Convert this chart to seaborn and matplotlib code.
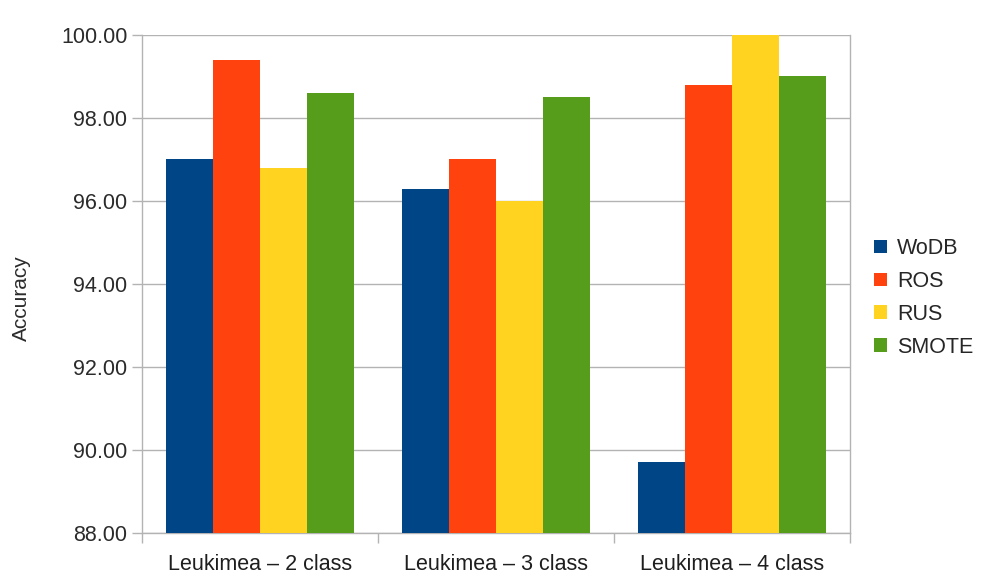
import pandas as pd
import seaborn as sns
import matplotlib.pyplot as plt
from matplotlib.ticker import FixedLocator, FormatStrFormatter

datasets = ["Leukimea – 2 class", "Leukimea – 3 class", "Leukimea – 4 class"]
methods = ["WoDB", "ROS", "RUS", "SMOTE"]
wodb = [97.0, 96.3, 89.7]
ros = [99.4, 97.0, 98.8]
rus = [96.8, 96.0, 100.0]
smote = [98.6, 98.5, 99.0]
colors = ["#004586", "#ff420e", "#ffd320", "#579d1c"]

df = pd.DataFrame({
    "dataset": datasets * 4,
    "method": [m for m in methods for _ in datasets],
    "acc": wodb + ros + rus + smote,
})

sns.set_style("white")
plt.rcParams["font.family"] = ["Liberation Sans", "DejaVu Sans"]

fig = plt.figure(figsize=(9.81, 5.80), dpi=100)
ax = fig.add_axes([0.1448, 0.081, 0.7217, 0.8587])

sns.barplot(data=df, x="dataset", y="acc", hue="method", palette=colors,
            width=0.8, saturation=1, linewidth=0, ax=ax, zorder=3)

ax.set_ylim(88, 100)
ax.set_xlim(-0.5, 2.5)
ax.set_yticks([88, 90, 92, 94, 96, 98, 100])
ax.yaxis.set_major_formatter(FormatStrFormatter("%.2f"))
ax.grid(axis="y", color="#b3b3b3", linewidth=1, zorder=0)
ax.set_axisbelow(True)
for s in ["left", "bottom", "right"]:
    ax.spines[s].set_color("#b3b3b3")
    ax.spines[s].set_linewidth(1)
ax.spines["top"].set_visible(False)

ax.tick_params(axis="y", length=7, width=1, color="#b3b3b3", labelsize=15.5,
               labelcolor="#2b2b2b", left=True, pad=3.5)
ax.tick_params(axis="x", which="major", length=0, labelsize=15.5,
               labelcolor="#1e1e1e", pad=15)
ax.xaxis.set_minor_locator(FixedLocator([-0.5, 0.5, 1.5, 2.5]))
ax.tick_params(axis="x", which="minor", length=7, width=1, color="#b3b3b3",
               bottom=True)

ax.set_xlabel("")
ax.set_ylabel("Accuracy", fontsize=15, color="#2b2b2b")
ax.yaxis.set_label_coords(-0.157, 0.472)

ax.legend(loc="center left", bbox_to_anchor=(1.01, 0.472), frameon=False,
          fontsize=15.5, handlelength=0.6, handleheight=0.6,
          handletextpad=0.45, labelspacing=0.55, borderaxespad=0.4)

fig.savefig("out.png", dpi=100)
